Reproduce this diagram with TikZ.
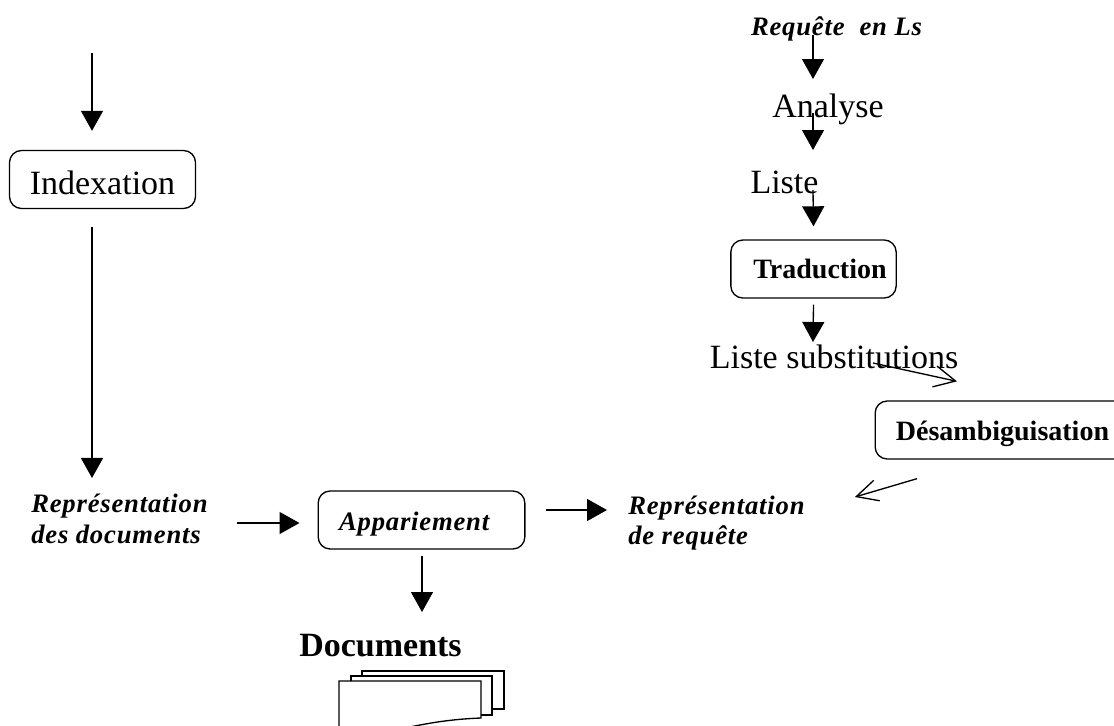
\documentclass[tikz,border=0pt]{standalone}
\usepackage{fontspec}
\setmainfont{Liberation Serif}
\newfontfamily\widefont[LetterSpace=3]{Liberation Serif}
\usetikzlibrary{arrows.meta, calc}

\begin{document}
\begin{tikzpicture}[
        x=0.75pt, y=-0.75pt,
        every node/.style={inner sep=0pt, align=left},
        box/.style={rectangle, rounded corners=9pt, draw, line width=1pt, minimum height=43.5pt, text depth=0pt},
        plain/.style={font=\fontsize{25.5pt}{30pt}\selectfont},
        strong/.style={font=\fontsize{21pt}{25pt}\selectfont\bfseries},
        term/.style={font=\fontsize{20pt}{23pt}\selectfont\widefont\bfseries\itshape},
        flow/.style={-{Triangle[length=15pt,width=16.5pt]}, line width=1pt},
        loose/.style={-{Straight Barb[length=16pt,width=16pt,line width=1pt]}, line width=1pt},
        page/.style={draw, fill=white, line width=1pt}
    ]
        \clip (0,0) rectangle (1114,725);

        \node[box, plain, minimum width=139.5pt, text height=23pt] (idx) at (102.5,179.5) {Indexation};
        \node[box, strong, minimum width=124pt, text height=13.5pt] (trad) at (813.5,269) {\hspace{9.75pt}Traduction};
        \node[box, strong, minimum width=191pt, text height=15pt] (dis) at (1002.5,430) {Désambiguisation};
        \node[box, term, minimum width=155pt, text height=15pt] (app) at (421.5,520) {Appariement\hspace{11pt}};

        \node[term, anchor=base] (req) at (836.5,35) {Requête\ \ en Ls};
        \node[plain, anchor=base] (ana) at (828,117) {Analyse};
        \node[plain, anchor=base] (lst) at (784.5,193) {Liste};
        \node[plain, anchor=base] (sub) at (834,368) {Liste substitutions};
        \node[term, anchor=west] (rd) at (31,519) {Représentation\\des documents};
        \node[term, anchor=west] (rq) at (628,523) {Représentation\\de requête};
        \node[font=\fontsize{25.5pt}{30pt}\selectfont\bfseries, anchor=base] (docs) at (380.5,656) {Documents};

        \coordinate (idxin) at (92,53);

        \draw[flow] (idxin) -- ($(idxin |- idx.north)+(0,-19)$);
        \draw[flow] ($(idx.south)+(-10.5,18)$) -- ($(rd.north -| idxin)+(0,-16)$);
        \draw[flow] ($(req.base)+(-23.5,0)$) -- ($(ana.base)+(-15,-38)$);
        \draw[flow] ($(ana.base)+(-15,-4)$) -- ($(lst.base)+(28.5,-43)$);
        \draw[flow] ($(lst.base)+(28.5,-3)$) -- ($(trad.north)+(0,-13)$);
        \draw[flow] ($(trad.south)+(0,6)$) -- ($(sub.base)+(-21,-26)$);
        \draw[loose] ($(sub.base)+(39,-5)$) -- ($(dis.north)+(-45.5,-19)$);
        \draw[loose] ($(dis.south)+(-85.5,19)$) -- ($(rq.east)+(50,-26)$);
        \draw[flow] ($(rd.east)+(29,4)$) -- ($(app.west)+(-18,3)$);
        \draw[flow] ($(app.east)+(20,-10)$) -- ($(rq.west)+(-21,-13)$);
        \draw[flow] ($(app.south)+(0.5,6)$) -- ($(docs.base)+(41.5,-44)$);

        % document pile
        \draw[page] (362,671) rectangle (504,709);
        \draw[page] (351,676) rectangle (492,715);
        \draw[page] (339,740) -- (339,681) -- (481,681) -- (481,718) .. controls (455,719) and (435,722) .. (415,726) -- (339,740);
    \end{tikzpicture}
\end{document}
